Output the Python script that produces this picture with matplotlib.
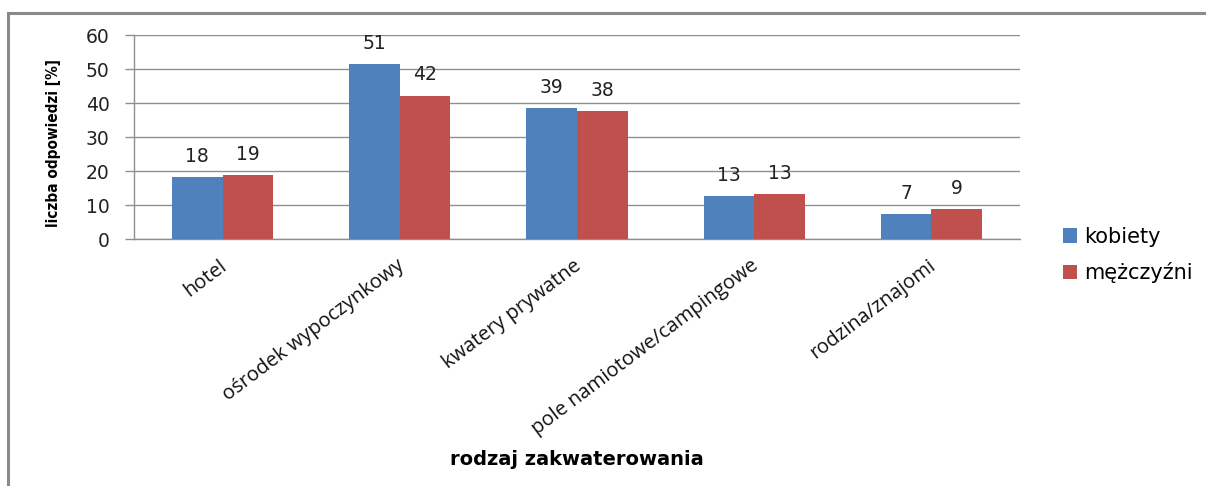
import matplotlib
matplotlib.use("Agg")
import matplotlib.pyplot as plt
import numpy as np
from matplotlib.patches import Rectangle

categories = ["hotel", "ośrodek wypoczynkowy", "kwatery prywatne",
              "pole namiotowe/campingowe", "rodzina/znajomi"]
kobiety = [18.1, 51.4, 38.6, 12.6, 7.3]
mezczyzni = [18.8, 42.2, 37.7, 13.2, 8.7]
series_names = ["kobiety", "mężczyźni"]
yticks = [0, 10, 20, 30, 40, 50, 60]

fig = plt.figure(figsize=(12.06, 4.86), dpi=100)
ax = fig.add_axes([134/1206, 1-239/486, (1020-134)/1206, (239-35)/486])

# outer frame (cut off at right/bottom as in reference)
fig.patches.append(Rectangle((8/1206, -0.1), 1.2, 1-13/486+0.1, transform=fig.transFigure,
                             fill=False, edgecolor="#8a8a8a", linewidth=2.2))

x = np.arange(len(categories))
w = 0.285
b1 = ax.bar(x - w/2, kobiety, w, color="#4F81BD", label=series_names[0], zorder=3)
b2 = ax.bar(x + w/2, mezczyzni, w, color="#C0504D", label=series_names[1], zorder=3)

for bars, vals in ((b1, kobiety), (b2, mezczyzni)):
    for r, v in zip(bars, vals):
        ax.annotate(f"{round(v):d}", (r.get_x() + r.get_width()/2, v),
                    xytext=(0, 8), textcoords="offset points",
                    ha="center", va="bottom", fontsize=13.5, family="DejaVu Sans",
                    color="#222222")

ax.set_xlim(-0.5, len(categories) - 0.5)
ax.set_ylim(0, 60)
ax.set_yticks(yticks)
ax.set_yticklabels([str(t) for t in yticks], fontsize=13.5, family="DejaVu Sans", color="#222222")
ax.yaxis.grid(True, color="#8f8f8f", linewidth=1.0, zorder=0)
ax.set_axisbelow(True)
ax.tick_params(axis="y", length=6.5, color="#8f8f8f", width=1.0, pad=11)
ax.tick_params(axis="x", length=0, pad=12)
ax.set_xticks(x - 0.02)
ax.set_xticklabels(categories, rotation=37, ha="right", rotation_mode="anchor",
                   fontsize=14.5, family="Open Sans", color="#111111")

for s in ("top", "right"):
    ax.spines[s].set_visible(False)
ax.spines["left"].set_color("#8f8f8f")
ax.spines["bottom"].set_color("#8f8f8f")
ax.spines["left"].set_linewidth(1.0)
ax.spines["bottom"].set_linewidth(1.0)

ax.set_ylabel("liczba odpowiedzi [%]", fontsize=11, fontweight="bold",
              family="DejaVu Sans", fontstretch="condensed", labelpad=13)
ax.yaxis.set_label_coords(-0.082, 0.47)
fig.text(577/1206, 1-459/486, "rodzaj zakwaterowania", ha="center", va="center",
         fontsize=14, fontweight="bold", family="DejaVu Sans")

leg = fig.legend(handles=[b1, b2], labels=series_names, loc="center left",
                 bbox_to_anchor=(1044/1206, 1-255/486), frameon=False,
                 prop={"family": "DejaVu Sans", "size": 15},
                 handlelength=0.7, handleheight=0.7, handletextpad=0.35,
                 labelspacing=0.75)

fig.savefig("out.png", dpi=100)
